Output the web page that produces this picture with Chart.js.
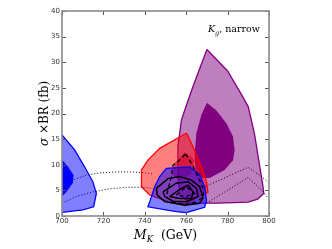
<!DOCTYPE html>
<html><head><meta charset="utf-8">
<script src="https://cdn.jsdelivr.net/npm/chart.js@4.4.1/dist/chart.umd.min.js"></script>
<style>html,body{margin:0;padding:0;background:#fff}#wrap{width:332px;height:249px}</style>
</head><body><div id="wrap"><canvas id="c" width="332" height="249"></canvas></div>
<script>
// Axis ticks
const massTicks = [700, 720, 740, 760, 780, 800];
const xsecTicks = [0, 5, 10, 15, 20, 25, 30, 35, 40];

// Contour regions [M_K (GeV), sigma x BR (fb)]
const purpleOuter = [[770,32.5],[780,28.3],[787,23.5],[790,21.3],[793,16],[795,11],[797,6],[797.5,4.4],[794.5,3.3],[790,2.7],[775,2.5],[762,2.5],[757,4],[756,8],[756,13.6],[757.7,18.7],[760,21.5],[763.5,25.5],[770,32.5]];
const purpleInner = [[770,22.1],[774.6,20.6],[779.4,18.1],[782.6,15.5],[783.4,12.9],[782.6,10.9],[778.6,9.0],[771.3,7.4],[768.1,7.4],[764.6,8.3],[764.1,12.2],[764.9,16.1],[767.3,19.7],[770,22.1]];
const redOuter = [[760.2,16.2],[763.3,13.5],[767.3,9.6],[769.8,6.7],[770.5,4.6],[767.3,4.1],[760,2.3],[751.2,2.8],[742.4,4.1],[738.4,5.7],[738.4,9.0],[741.5,10.9],[747.2,13.2],[760.2,16.2]];
const redInner = [[759.3,12.5],[761.7,11.8],[764.1,10.9],[762,8.0],[756.9,7.0],[753,8.0],[754.4,10.3],[759.3,12.5]];
const blueLeftOuter = [[700,15.8],[706.1,12.9],[710.9,9.6],[714.9,6.7],[716.6,4.4],[715.3,1.8],[710.1,1.2],[700,0.7]];
const blueLeftInner = [[700,11.0],[702.9,9.6],[705.6,8.0],[705.3,6.5],[702.1,4.7],[700,3.8]];
const blueCentOuter = [[750.4,9.3],[761.7,9.6],[766.5,8.0],[768.9,5.7],[769.8,3.1],[768.9,1.7],[760,0.65],[755.2,0.85],[741.5,1.8],[742.4,2.8],[744.8,5.7],[747.2,7.7],[750.4,9.3]];
const solid1 = [[745.6,5.4],[751.2,7.3],[756.8,7.7],[762.5,7.0],[766.5,5.7],[767.3,4.7],[768.1,3.5],[766.5,2.5],[759.3,2.1],[749.6,2.8],[746,4.1],[745.6,5.4]];
const solid2 = [[748.8,4.7],[755.2,6.4],[760.9,6.7],[765,5.4],[765.7,3.8],[760,2.8],[753.6,2.9],[749.6,3.8],[748.8,4.7]];
const solid3 = [[752,3.8],[757.6,5.4],[760.9,6.0],[763.3,4.7],[762.5,3.4],[756.9,3.4],[752,3.8]];
const dashed1 = [[759.7,12.1],[762.5,10.3],[765.7,7.7],[768.1,5.4],[768.4,3.8],[765,2.8],[760,2.3],[753.6,2.6],[750.4,3.8],[752.8,7.7],[753.6,9.9],[756.8,10.9],[759.7,12.1]];
const dashed2 = [[755.2,4.1],[760,5.7],[764,4.4],[760,3.8],[755.2,4.1]];
const dotUpperLeft = [[700,5.4],[705.3,7.0],[711.8,8.0],[718.2,8.4],[726.2,8.6],[734.3,8.6],[740.7,8.4],[744,8.2]];
const dotLowerLeft = [[700,2.5],[706.9,3.8],[715,4.7],[723,5.3],[731,5.6],[739.1,5.6],[743.9,5.4]];
const dotUpperRight = [[769,5.7],[789.9,9.5],[796.3,7.7],[800,6.5]];
const dotLowerRight = [[769.8,2.5],[789.9,7.5],[796.3,5.1],[800,3.3]];

const pts = a => a.map(p => ({x: p[0], y: p[1]}));
function poly(data, fillC, borderC, bw, order) {
  return {data: pts(data), showLine: true, fill: 'shape', backgroundColor: fillC,
    borderColor: borderC, borderWidth: bw, pointRadius: 0, tension: 0, order: order};
}
function line(data, color, bw, dash, order) {
  return {data: pts(data), showLine: true, fill: false, borderColor: color, borderWidth: bw,
    borderDash: dash, pointRadius: 0, tension: 0, order: order};
}

const datasets = [
  poly(purpleOuter, 'rgba(128,0,128,0.5)', '#800080', 1.3, 20),
  poly(purpleInner, 'rgba(128,0,128,1)', 'rgba(0,0,0,0)', 0, 19),
  line(dotUpperRight, '#000', 1, [1,2], 18),
  line(dotLowerRight, '#000', 1, [1,2], 18),
  line(dotUpperLeft, '#000', 1, [1,2], 18),
  line(dotLowerLeft, '#000', 1, [1,2], 18),
  poly(redOuter, 'rgba(255,0,0,0.5)', '#ff0000', 1.3, 16),
  poly(redInner, 'rgba(210,0,40,0.6)', 'rgba(0,0,0,0)', 0, 15),
  poly(blueLeftOuter, 'rgba(0,0,255,0.5)', '#0000ff', 1.3, 14),
  poly(blueLeftInner, 'rgba(0,0,255,1)', 'rgba(0,0,0,0)', 0, 13),
  poly(blueCentOuter, 'rgba(0,0,255,0.5)', '#0000ff', 1.3, 12),
  line(dashed1, '#000', 1.3, [4,3], 10),
  line(dashed2, '#000', 1.3, [4,3], 10),
  line(solid1, '#000', 1.5, [], 9),
  line(solid2, '#000', 1.5, [], 9),
  line(solid3, '#000', 1.5, [], 9)
];

const framePlugin = {
  id: 'frame',
  afterDatasetsDraw(chart) {
    const ctx = chart.ctx, a = chart.chartArea, xs = chart.scales.x, ys = chart.scales.y;
    ctx.save();
    ctx.strokeStyle = '#555'; ctx.lineWidth = 1;
    massTicks.forEach(v => { const px = Math.round(xs.getPixelForValue(v)) + 0.5;
      ctx.beginPath(); ctx.moveTo(px, a.bottom); ctx.lineTo(px, a.bottom - 4);
      ctx.moveTo(px, a.top); ctx.lineTo(px, a.top + 4); ctx.stroke(); });
    xsecTicks.forEach(v => { const py = Math.round(ys.getPixelForValue(v)) + 0.5;
      ctx.beginPath(); ctx.moveTo(a.left, py); ctx.lineTo(a.left + 4, py);
      ctx.moveTo(a.right, py); ctx.lineTo(a.right - 4, py); ctx.stroke(); });
    ctx.strokeStyle = '#8a8a8a'; ctx.lineWidth = 1.6;
    ctx.strokeRect(a.left, a.top, a.right - a.left, a.bottom - a.top);
    // annotation
    ctx.fillStyle = '#000'; ctx.textBaseline = 'alphabetic';
    let x = a.left + (a.right - a.left) * 0.705, y = a.top + 21;
    ctx.font = 'italic 9.5px "DejaVu Serif"'; ctx.fillText('K', x, y); x += ctx.measureText('K').width;
    ctx.font = 'italic 6.5px "DejaVu Serif"'; ctx.fillText('g', x, y + 2.5); x += ctx.measureText('g').width;
    ctx.font = '9.5px "DejaVu Serif"'; ctx.fillText(', narrow', x, y);
    // x title
    const xc = (a.left + a.right) / 2; y = 239;
    ctx.font = 'italic 12.5px "DejaVu Serif"'; const wM = ctx.measureText('M').width;
    ctx.font = 'italic 8.5px "DejaVu Serif"'; const wK = ctx.measureText('K').width;
    ctx.font = '12.5px "DejaVu Serif"'; const wG = ctx.measureText('  (GeV)').width;
    x = xc - (wM + wK + wG) / 2;
    ctx.font = 'italic 12.5px "DejaVu Serif"'; ctx.fillText('M', x, y); x += wM;
    ctx.font = 'italic 8.5px "DejaVu Serif"'; ctx.fillText('K', x, y + 3); x += wK;
    ctx.font = '12.5px "DejaVu Serif"'; ctx.fillText('  (GeV)', x, y);
    // y title
    ctx.translate(48, (a.top + a.bottom) / 2); ctx.rotate(-Math.PI / 2);
    ctx.font = 'italic 12px "DejaVu Serif"'; const ws = ctx.measureText('σ').width;
    ctx.font = '12px "DejaVu Serif"'; const wr = ctx.measureText(' ×BR (fb)').width;
    x = -(ws + wr) / 2;
    ctx.font = 'italic 12px "DejaVu Serif"'; ctx.fillText('σ', x, 0);
    ctx.font = '12px "DejaVu Serif"'; ctx.fillText(' ×BR (fb)', x + ws, 0);
    ctx.restore();
  }
};

new Chart(document.getElementById('c'), {
  type: 'scatter',
  data: {datasets},
  options: {
    responsive: false, animation: false, events: [],
    layout: {padding: {top: 11, right: 63, left: 0, bottom: 0}},
    plugins: {legend: {display: false}, tooltip: {enabled: false}},
    scales: {
      x: {type: 'linear', min: 700, max: 800,
        afterBuildTicks: s => { s.ticks = massTicks.map(v => ({value: v})); },
        afterFit: s => { s.height = 33; },
        grid: {display: false, drawTicks: false, tickLength: 0}, border: {display: false},
        ticks: {color: '#333', font: {family: 'DejaVu Sans', size: 7}, padding: 1, maxRotation: 0}},
      y: {type: 'linear', min: 0, max: 40,
        afterBuildTicks: s => { s.ticks = xsecTicks.map(v => ({value: v})); },
        afterFit: s => { s.width = 62; },
        grid: {display: false, drawTicks: false, tickLength: 0}, border: {display: false},
        ticks: {color: '#333', font: {family: 'DejaVu Sans', size: 7}, padding: 2}}
    }
  },
  plugins: [framePlugin]
});
</script></body></html>
